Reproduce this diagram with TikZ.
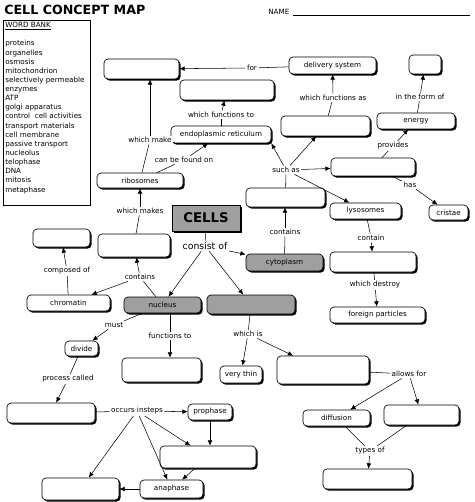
\documentclass[tikz,border=0pt]{standalone}
\usepackage{fontspec}
\setmainfont{DejaVu Sans}
\usetikzlibrary{arrows.meta,shadows}
\begin{document}
\begin{tikzpicture}[x=0.75pt,y=-0.75pt,
  f/.style={font=\fontsize{5.4}{6.5}\selectfont},
  box/.style={f,draw=black,rounded corners=3pt,fill=white,inner sep=0pt,line width=0.5pt,
     drop shadow={shadow xshift=1.2pt,shadow yshift=-1.2pt,fill=black,opacity=1}},
  lab/.style={f,fill=white,inner sep=1pt},
  ln/.style={line width=0.4pt},
  ar/.style={line width=0.4pt,-{Latex[length=4pt,width=3.5pt]}}]
\useasboundingbox (0,0) rectangle (474,502);
\newcommand\bx[7][white]{\node[box,fill=#1,minimum width={(#5-#3)*0.75pt},minimum height={(#6-#4)*0.75pt}] (#2) at ({(#3+#5)/2},{(#4+#6)/2}) {#7};}
% title
\node[anchor=west,font=\bfseries\fontsize{9.5}{10}\selectfont,inner sep=0] (title) at (4,10) {CELL CONCEPT MAP};
\node[f,anchor=west,inner sep=0] (name) at (268,12) {NAME};
\coordinate (nl) at (293,15); \coordinate (nr) at (470,15);
\draw[ln] (nl) -- (nr);
% word bank
\node[draw,line width=0.5pt,minimum width={87*0.75pt},minimum height={185*0.75pt},inner sep=0] (wb) at (46.5,112.5) {};
\node[f,anchor=north west,align=left,inner sep=0,font=\fontsize{5.4}{6.85}\selectfont] (wbt) at (5,22) {\underline{WORD BANK}\\[6.85pt]proteins\\organelles\\osmosis\\mitochondrion\\selectively permeable\\enzymes\\ATP\\golgi apparatus\\control\ \ cell activities\\transport materials\\cell membrane\\passive transport\\nucleolus\\telophase\\DNA\\mitosis\\metaphase};
% boxes
\bx{A}{104}{59}{179}{79}{}
\bx{del}{289}{57}{376}{74}{delivery system}
\bx{tr}{409}{55}{441}{74}{}
\bx{B}{180}{80}{274}{100}{}
\bx{C}{281}{116}{370}{136}{}
\bx{en}{377}{113}{455}{129}{energy}
\bx{er}{171}{126}{271}{143}{endoplasmic reticulum}
\bx{rib}{97}{173}{183}{188}{ribosomes}
\bx{D}{331}{158}{415}{176}{}
\bx{E}{246}{188}{325}{207}{}
\bx{lys}{330}{203}{401}{219}{lysosomes}
\bx{cri}{429}{205}{468}{220}{cristae}
\node[draw,fill=gray!75,line width=0.5pt,minimum width={68*0.75pt},minimum height={26*0.75pt},inner sep=0,font=\bfseries\fontsize{10}{11}\selectfont,
  drop shadow={shadow xshift=1.2pt,shadow yshift=-1.2pt,fill=black,opacity=1}] (cells) at (206,218) {CELLS};
\bx{F}{98}{234}{170}{257}{}
\bx{G}{33}{229}{90}{247}{}
\bx[gray!75]{cyt}{246}{254}{323}{271}{cytoplasm}
\bx{H}{330}{252}{416}{272}{}
\bx{chr}{27}{295}{110}{311}{chromatin}
\bx[gray!75]{nuc}{124}{297}{201}{313}{nucleus}
\bx[gray!75]{I}{207}{295}{295}{314}{}
\bx{fp}{330}{307}{425}{323}{foreign particles}
\bx{div}{65}{341}{98}{356}{divide}
\bx{J}{122}{358}{201}{382}{}
\bx{vt}{220}{366}{262}{383}{very thin}
\bx{K}{277}{356}{369}{384}{}
\bx{L}{7}{403}{95}{423}{}
\bx{pro}{188}{404}{232}{420}{prophase}
\bx{dif}{303}{410}{370}{426}{diffusion}
\bx{M}{384}{405}{459}{425}{}
\bx{N}{160}{446}{256}{468}{}
\bx{O}{42}{478}{119}{500}{}
\bx{ana}{140}{480}{203}{498}{anaphase}
\bx{P}{323}{469}{412}{489}{}
% labels
\node[lab] (lfor) at (252,68) {for};
\node[lab] (lwfa) at (333,98) {which functions as};
\node[lab] (lifo) at (420,97) {in the form of};
\node[lab] (lwft) at (221,115) {which functions to};
\node[lab] (lwm) at (150,140) {which make};
\node[lab] (lcbf) at (184,160) {can be found on};
\node[lab] (lsa) at (286,170) {such as};
\node[lab] (lpr) at (393,146) {provides};
\node[lab] (lhas) at (410,185) {has};
\node[lab] (lwms) at (140,211) {which makes};
\node[lab] (lcon) at (285,232) {contains};
\node[lab] (lctn) at (371,238) {contain};
\node[lab,font=\fontsize{7}{8}\selectfont] (lco) at (205,246) {consist of};
\node[lab] (lcmp) at (67,271) {composed of};
\node[lab] (lcns) at (140,277) {contains};
\node[lab] (lwd) at (375,285) {which destroy};
\node[lab] (lmust) at (114,325) {must};
\node[lab] (lft) at (170,336) {functions to};
\node[lab] (lwi) at (248,334) {which is};
\node[lab] (lpc) at (68,379) {process called};
\node[lab] (laf) at (409,374) {allows for};
\node[lab] (loi) at (137,411) {occurs insteps};
\node[lab] (lto) at (370,451) {types of};
% connectors
\draw[ln] (del) -- (lfor); \draw[ar] (lfor) -- (A);
\draw[ln] (C) -- (lwfa); \draw[ar] (lwfa) -- (del);
\draw[ln] (en) -- (lifo); \draw[ar] (lifo) -- (tr);
\draw[ln] (er) -- (lwft); \draw[ar] (lwft) -- (B);
\draw[ln] (rib) -- (lwm); \draw[ar] (lwm) -- (A.south-|lwm);
\draw[ln] (rib) -- (lcbf); \draw[ar] (lcbf) -- (er);
\draw[ln] (E) -- (lsa); \draw[ar] (lsa) -- (er.south east); \draw[ar] (lsa) -- (C);
\draw[ar] (lsa) -- (D); \draw[ar] (lsa) -- (lys);
\draw[ln] (D) -- (lpr); \draw[ar] (lpr) -- (en);
\draw[ln] (D) -- (lhas); \draw[ar] (lhas) -- (cri);
\draw[ln] (F) -- (lwms); \draw[ar] (lwms) -- (rib.south-|lwms);
\draw[ln] (cyt) -- (lcon); \draw[ar] (lcon) -- (E.south-|lcon);
\draw[ln] (lys) -- (lctn); \draw[ar] (lctn) -- (H);
\draw[ln] (cells) -- (lco); \draw[ar] (lco) -- (cyt); \draw[ar] (lco) -- (nuc); \draw[ar] (lco) -- (I);
\draw[ln] (chr) -- (lcmp); \draw[ar] (lcmp) -- (G);
\draw[ln] (nuc) -- (lcns); \draw[ar] (lcns) -- (F); \draw[ar] (lcns) -- (chr);
\draw[ln] (H) -- (lwd); \draw[ar] (lwd) -- (fp);
\draw[ln] (nuc) -- (lmust); \draw[ar] (lmust) -- (div);
\draw[ln] (nuc.south-|lft) -- (lft); \draw[ar] (lft) -- (J.north-|lft);
\draw[ln] (I) -- (lwi); \draw[ar] (lwi) -- (vt); \draw[ar] (lwi) -- (K);
\draw[ln] (div) -- (lpc); \draw[ar] (lpc) -- (L);
\draw[ln] (K) -- (laf); \draw[ar] (laf) -- (dif); \draw[ar] (laf) -- (M);
\draw[ln] (L) -- (loi); \draw[ar] (loi) -- (pro); \draw[ar] (loi) -- (N);
\draw[ar] (loi) -- (O); \draw[ar] (loi) -- (ana);
\draw[ar] (pro) -- (N.north-|pro);
\draw[ar] (N) -- (ana);
\draw[ar] (ana) -- (O);
\draw[ln] (dif) -- (lto); \draw[ln] (M) -- (lto); \draw[ar] (lto) -- (P);
\end{tikzpicture}
\end{document}
